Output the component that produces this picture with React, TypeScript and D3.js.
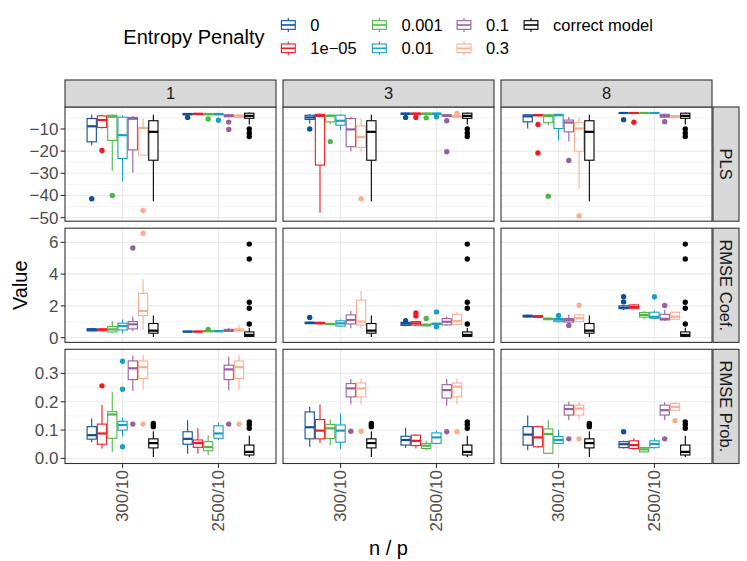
import React from "react";
import * as d3 from "d3";

// [lower whisker, q1, median, q3, upper whisker, outliers]
type Box = [number, number, number, number, number, number[]];

const penalties = ["0", "1e\u221205", "0.001", "0.01", "0.1", "0.3", "correct model"];
const penaltyColors = ["#0E4F9A", "#EE1B24", "#4DB848", "#1AA0C0", "#9460A6", "#FCAE91", "#000000"];
const kLevels = ["1", "3", "8"];
const npLevels = ["300/10", "2500/10"];
const metrics = ["PLS", "RMSE Coef.", "RMSE Prob."];

// ---- PLS ----
const pls_k1_300: Box[] = [
  [-17.3, -15.8, -8.8, -5.3, -3.6, [-41.5]],
  [-9.8, -9.3, -6.0, -4.1, -3.6, [-19.7]],
  [-28.9, -15.2, -4.5, -3.8, -3.4, [-40.0]],
  [-33.6, -23.3, -12.8, -4.7, -3.8, []],
  [-29.8, -19.4, -5.4, -4.8, -4.2, []],
  [-21.9, -21.8, -9.6, -9.3, -5.3, [-46.8]],
];
const pls_k1_2500: Box[] = [
  [-3.9, -3.6, -3.3, -3.0, -2.8, [-4.8]],
  [-3.7, -3.5, -3.2, -3.0, -2.8, []],
  [-3.8, -3.6, -3.3, -3.0, -2.8, [-5.5]],
  [-3.8, -3.6, -3.3, -3.0, -2.8, [-6.1]],
  [-4.8, -4.5, -4.0, -3.6, -3.4, [-6.9, -10.2]],
  [-5.0, -4.8, -4.2, -3.7, -3.5, []],
];
const pls_k3_300: Box[] = [
  [-7.6, -5.7, -4.8, -3.8, -3.4, [-10.0]],
  [-47.8, -26.3, -4.1, -3.4, -3.0, []],
  [-8.0, -6.8, -4.1, -3.8, -3.4, [-15.7]],
  [-10.5, -8.3, -6.3, -3.8, -3.4, []],
  [-20.0, -18.0, -10.2, -5.3, -4.5, []],
  [-20.0, -18.3, -13.6, -8.6, -5.3, [-41.5]],
];
const pls_k3_2500: Box[] = [
  [-3.6, -3.4, -3.1, -2.9, -2.7, [-4.8]],
  [-3.6, -3.4, -3.1, -2.9, -2.7, [-4.8]],
  [-3.6, -3.4, -3.1, -2.9, -2.7, [-5.0]],
  [-3.6, -3.4, -3.1, -2.9, -2.7, [-4.5]],
  [-4.6, -4.3, -4.0, -3.6, -3.4, [-6.3, -20.3]],
  [-5.0, -4.8, -4.3, -3.9, -3.7, [-3.0]],
];
const pls_k8_300: Box[] = [
  [-9.8, -6.8, -4.3, -3.6, -3.4, []],
  [-4.3, -4.0, -3.8, -3.6, -3.4, [-8.0, -20.8]],
  [-8.3, -7.2, -4.1, -3.6, -3.4, [-40.3]],
  [-15.2, -9.8, -3.8, -3.4, -3.2, []],
  [-15.5, -11.3, -7.1, -6.0, -4.5, [-24.2]],
  [-37.0, -20.0, -9.8, -7.1, -5.0, [-49.2]],
];
const pls_k8_2500: Box[] = [
  [-3.0, -2.9, -2.8, -2.7, -2.6, [-5.8]],
  [-3.0, -2.9, -2.8, -2.7, -2.6, [-7.0]],
  [-3.0, -2.9, -2.8, -2.7, -2.6, []],
  [-3.0, -2.9, -2.8, -2.7, -2.6, []],
  [-4.9, -4.7, -4.1, -3.4, -3.2, [-6.7]],
  [-5.0, -4.8, -4.4, -4.0, -3.8, []],
];
const pls_correct_300: Box = [-42.6, -24.1, -11.3, -6.3, -3.6, []];
const pls_correct_2500: Box = [-8.0, -5.2, -4.1, -2.9, -2.6, [-10.0, -11.8, -13.4]];

// ---- RMSE Coef. ----
const coef_k1_300: Box[] = [
  [0.38, 0.42, 0.5, 0.56, 0.63, []],
  [0.4, 0.43, 0.5, 0.55, 0.6, []],
  [0.3, 0.36, 0.52, 0.7, 1.06, []],
  [0.28, 0.48, 0.73, 0.91, 1.15, []],
  [0.42, 0.55, 0.84, 1.01, 1.33, [5.64]],
  [0.48, 1.39, 1.68, 2.79, 3.67, [6.57]],
];
const coef_k1_2500: Box[] = [
  [0.34, 0.36, 0.38, 0.4, 0.42, []],
  [0.34, 0.36, 0.38, 0.4, 0.42, []],
  [0.36, 0.38, 0.41, 0.44, 0.47, [0.52]],
  [0.36, 0.38, 0.41, 0.43, 0.46, []],
  [0.38, 0.4, 0.45, 0.52, 0.62, []],
  [0.4, 0.42, 0.47, 0.55, 0.8, []],
];
const coef_k3_300: Box[] = [
  [0.85, 0.88, 0.93, 0.97, 1.0, [1.27]],
  [0.85, 0.87, 0.92, 0.96, 1.02, []],
  [0.78, 0.82, 0.86, 0.89, 0.92, []],
  [0.69, 0.73, 0.9, 1.06, 1.15, []],
  [0.59, 0.86, 1.11, 1.43, 1.68, []],
  [0.59, 0.79, 1.01, 2.36, 2.95, []],
];
const coef_k3_2500: Box[] = [
  [0.72, 0.77, 0.88, 0.96, 1.0, [1.07]],
  [0.72, 0.79, 0.9, 1.01, 1.05, [1.37, 1.56]],
  [0.7, 0.74, 0.8, 0.84, 0.9, [1.21]],
  [0.82, 0.84, 0.87, 0.9, 0.93, [0.69, 1.62]],
  [0.76, 0.8, 1.0, 1.2, 1.33, []],
  [0.78, 0.84, 1.04, 1.47, 1.62, []],
];
const coef_k8_300: Box[] = [
  [1.25, 1.3, 1.36, 1.41, 1.45, []],
  [1.24, 1.28, 1.33, 1.38, 1.42, []],
  [1.1, 1.13, 1.18, 1.22, 1.26, []],
  [0.96, 1.0, 1.13, 1.2, 1.27, [1.39]],
  [0.93, 0.98, 1.1, 1.2, 1.45, [0.77]],
  [0.98, 1.01, 1.22, 1.43, 1.5, [2.04]],
];
const coef_k8_2500: Box[] = [
  [1.74, 1.82, 1.89, 2.0, 2.05, [2.25, 2.57]],
  [1.78, 1.82, 1.93, 2.06, 2.1, []],
  [1.15, 1.29, 1.43, 1.58, 1.7, []],
  [1.15, 1.22, 1.31, 1.6, 1.7, [2.57]],
  [1.05, 1.11, 1.18, 1.47, 1.75, [2.02]],
  [1.12, 1.16, 1.33, 1.6, 1.65, []],
];
const coef_correct_300: Box = [0.04, 0.28, 0.44, 0.89, 1.39, []];
const coef_correct_2500: Box = [0.04, 0.08, 0.17, 0.36, 0.62, [0.86, 1.85, 2.23, 4.95, 5.89]];

// ---- RMSE Prob. ----
const prob_k1_300: Box[] = [
  [0.057, 0.068, 0.082, 0.112, 0.141, []],
  [0.035, 0.05, 0.088, 0.121, 0.188, [0.256]],
  [0.023, 0.071, 0.155, 0.165, 0.233, []],
  [0.077, 0.1, 0.118, 0.131, 0.144, [0.041, 0.244, 0.343]],
  [0.238, 0.278, 0.318, 0.344, 0.363, [0.121]],
  [0.242, 0.282, 0.322, 0.344, 0.365, [0.121]],
];
const prob_k1_2500: Box[] = [
  [0.016, 0.05, 0.069, 0.094, 0.135, []],
  [0.016, 0.039, 0.054, 0.065, 0.106, []],
  [0.012, 0.027, 0.04, 0.059, 0.082, []],
  [0.065, 0.071, 0.088, 0.115, 0.126, []],
  [0.241, 0.278, 0.314, 0.329, 0.359, [0.121]],
  [0.242, 0.282, 0.322, 0.344, 0.365, [0.121]],
];
const prob_k3_300: Box[] = [
  [0.041, 0.069, 0.11, 0.164, 0.182, []],
  [0.054, 0.069, 0.098, 0.137, 0.19, []],
  [0.047, 0.07, 0.106, 0.12, 0.137, []],
  [0.033, 0.057, 0.098, 0.118, 0.159, []],
  [0.19, 0.217, 0.247, 0.264, 0.28, [0.096]],
  [0.19, 0.217, 0.247, 0.266, 0.282, [0.096]],
];
const prob_k3_2500: Box[] = [
  [0.038, 0.047, 0.065, 0.078, 0.108, []],
  [0.035, 0.045, 0.062, 0.082, 0.084, []],
  [0.03, 0.035, 0.045, 0.053, 0.062, []],
  [0.05, 0.053, 0.074, 0.09, 0.098, []],
  [0.186, 0.213, 0.241, 0.26, 0.28, [0.094]],
  [0.19, 0.217, 0.253, 0.266, 0.282, [0.094]],
];
const prob_k8_300: Box[] = [
  [0.029, 0.047, 0.084, 0.112, 0.151, []],
  [0.038, 0.041, 0.074, 0.112, 0.116, []],
  [0.016, 0.018, 0.086, 0.104, 0.135, []],
  [0.05, 0.053, 0.065, 0.077, 0.1, []],
  [0.135, 0.153, 0.174, 0.188, 0.2, [0.069]],
  [0.137, 0.153, 0.176, 0.188, 0.2, [0.069]],
];
const prob_k8_2500: Box[] = [
  [0.035, 0.038, 0.05, 0.059, 0.062, [0.094]],
  [0.03, 0.035, 0.047, 0.062, 0.071, []],
  [0.02, 0.023, 0.032, 0.038, 0.041, []],
  [0.035, 0.038, 0.051, 0.062, 0.071, []],
  [0.135, 0.153, 0.17, 0.188, 0.198, [0.069]],
  [0.17, 0.17, 0.182, 0.194, 0.198, [0.133]],
];
const prob_correct_300: Box = [0.005, 0.037, 0.054, 0.069, 0.096, [0.112, 0.118, 0.123]];
const prob_correct_2500: Box = [0.005, 0.012, 0.023, 0.047, 0.08, [0.106, 0.119, 0.129]];

// axis settings per facet row
const yDomains: [number, number][] = [[-51.6, -0.1], [-0.3, 6.89], [-0.018, 0.385]];
const yTicks = [[-10, -20, -30, -40, -50], [0, 2, 4, 6], [0, 0.1, 0.2, 0.3]];
const yMinor = [[-5, -15, -25, -35, -45], [1, 3, 5], [0.05, 0.15, 0.25, 0.35]];
const yFormats = [d3.format("d"), d3.format("d"), d3.format(".1f")];

// cells[metric][k][np]
const cells: Box[][][][] = [
  [
    [[...pls_k1_300, pls_correct_300], [...pls_k1_2500, pls_correct_2500]],
    [[...pls_k3_300, pls_correct_300], [...pls_k3_2500, pls_correct_2500]],
    [[...pls_k8_300, pls_correct_300], [...pls_k8_2500, pls_correct_2500]],
  ],
  [
    [[...coef_k1_300, coef_correct_300], [...coef_k1_2500, coef_correct_2500]],
    [[...coef_k3_300, coef_correct_300], [...coef_k3_2500, coef_correct_2500]],
    [[...coef_k8_300, coef_correct_300], [...coef_k8_2500, coef_correct_2500]],
  ],
  [
    [[...prob_k1_300, prob_correct_300], [...prob_k1_2500, prob_correct_2500]],
    [[...prob_k3_300, prob_correct_300], [...prob_k3_2500, prob_correct_2500]],
    [[...prob_k8_300, prob_correct_300], [...prob_k8_2500, prob_correct_2500]],
  ],
];

const FONT = "'Liberation Sans', Arial, Helvetica, sans-serif";
const colLeft = [65, 283, 501];
const rowTop = [107, 228.2, 349.3];
const panelW = 211;
const panelH = 114.2;
const stripH = 27;
const stripW = 26;
const gridColor = "#EBEBEB";
const borderColor = "#333333";

const x = d3.scaleBand<string>().domain(npLevels).range([0, panelW]).paddingInner(0).paddingOuter(0.1);
const dodgeW = x.bandwidth() * 0.75;
const slot = d3.scaleBand<string>().domain(penalties).range([-dodgeW / 2, dodgeW / 2]);
const boxW = slot.bandwidth() * 0.9;

const yScales = yDomains.map((d) => d3.scaleLinear().domain(d).range([panelH, 0]));

function BoxGlyph({ b, cx, y, color }: { b: Box; cx: number; y: d3.ScaleLinear<number, number>; color: string }) {
  const [lw, q1, med, q3, uw, outs] = b;
  return (
    <g>
      <line x1={cx} x2={cx} y1={y(q3)} y2={y(uw)} stroke={color} strokeWidth={1.1} />
      <line x1={cx} x2={cx} y1={y(q1)} y2={y(lw)} stroke={color} strokeWidth={1.1} />
      <rect x={cx - boxW / 2} y={y(q3)} width={boxW} height={Math.max(0.1, y(q1) - y(q3))}
        fill="white" stroke={color} strokeWidth={1.1} />
      <line x1={cx - boxW / 2} x2={cx + boxW / 2} y1={y(med)} y2={y(med)} stroke={color} strokeWidth={2.2} />
      {outs.map((o, i) => (
        <circle key={i} cx={cx} cy={y(o)} r={2.7} fill={color} />
      ))}
    </g>
  );
}

function Panel({ mi, ki }: { mi: number; ki: number }) {
  const y = yScales[mi];
  return (
    <g transform={`translate(${colLeft[ki]},${rowTop[mi]})`}>
      <rect width={panelW} height={panelH} fill="white" />
      {yMinor[mi].map((t) => (
        <line key={"m" + t} x1={0} x2={panelW} y1={y(t)} y2={y(t)} stroke={gridColor} strokeWidth={0.6} />
      ))}
      {yTicks[mi].map((t) => (
        <line key={"t" + t} x1={0} x2={panelW} y1={y(t)} y2={y(t)} stroke={gridColor} strokeWidth={1.1} />
      ))}
      {npLevels.map((n) => {
        const c = (x(n) ?? 0) + x.bandwidth() / 2;
        return <line key={n} x1={c} x2={c} y1={0} y2={panelH} stroke={gridColor} strokeWidth={1.1} />;
      })}
      {npLevels.map((n, ni) => {
        const c = (x(n) ?? 0) + x.bandwidth() / 2;
        return cells[mi][ki][ni].map((b, pi) => (
          <BoxGlyph key={n + pi} b={b} y={y} color={penaltyColors[pi]}
            cx={c + (slot(penalties[pi]) ?? 0) + slot.bandwidth() / 2} />
        ));
      })}
      <rect width={panelW} height={panelH} fill="none" stroke={borderColor} strokeWidth={1.1} />
    </g>
  );
}

function LegendKey({ cx, cy, color }: { cx: number; cy: number; color: string }) {
  const s = 17.3;
  const top = cy - s / 2;
  const left = cx - s / 2;
  return (
    <g>
      <line x1={cx} x2={cx} y1={top + 0.1 * s} y2={top + 0.9 * s} stroke={color} strokeWidth={1.1} />
      <rect x={left + 0.1 * s} y={top + 0.25 * s} width={0.8 * s} height={0.5 * s}
        fill="white" stroke={color} strokeWidth={1.1} />
      <line x1={left + 0.1 * s} x2={left + 0.9 * s} y1={cy} y2={cy} stroke={color} strokeWidth={1.6} />
    </g>
  );
}

export default function App() {
  const legendColX = [288.3, 379.4, 464, 531];
  const legendRowY = [25, 48.3];
  const bottom = rowTop[2] + panelH;
  const rightEdge = colLeft[2] + panelW;
  return (
    <svg width={747} height={561} style={{ position: "absolute", left: 0, top: 0, fontFamily: FONT }}>
      <rect width={747} height={561} fill="white" />

      {/* legend */}
      <text x={123.3} y={37} dy="0.35em" fontSize={20} fill="#000">Entropy Penalty</text>
      {penalties.map((p, i) => {
        const cx = legendColX[Math.floor(i / 2)];
        const cy = legendRowY[i % 2];
        return (
          <g key={p}>
            <LegendKey cx={cx} cy={cy} color={penaltyColors[i]} />
            <text x={cx + 22} y={cy} dy="0.35em" fontSize={16.5} fill="#000">{p}</text>
          </g>
        );
      })}

      {/* panels */}
      {metrics.map((_, mi) => kLevels.map((_, ki) => <Panel key={mi + "-" + ki} mi={mi} ki={ki} />))}

      {/* top strips */}
      {kLevels.map((k, ki) => (
        <g key={k}>
          <rect x={colLeft[ki]} y={rowTop[0] - stripH} width={panelW} height={stripH}
            fill="#D9D9D9" stroke={borderColor} strokeWidth={1.1} />
          <text x={colLeft[ki] + panelW / 2} y={rowTop[0] - stripH / 2} dy="0.35em" textAnchor="middle"
            fontSize={16.5} fill="#1A1A1A">{k}</text>
        </g>
      ))}

      {/* right strips */}
      {metrics.map((m, mi) => (
        <g key={m}>
          <rect x={rightEdge + 1} y={rowTop[mi]} width={stripW} height={panelH}
            fill="#D9D9D9" stroke={borderColor} strokeWidth={1.1} />
          <text transform={`translate(${rightEdge + 1 + stripW / 2},${rowTop[mi] + panelH / 2}) rotate(90)`}
            dy="0.35em" textAnchor="middle" fontSize={16.5} fill="#1A1A1A">{m}</text>
        </g>
      ))}

      {/* y axes */}
      {metrics.map((m, mi) => (
        <g key={"ya" + m} transform={`translate(${colLeft[0]},${rowTop[mi]})`}>
          {yTicks[mi].map((t) => (
            <g key={t} transform={`translate(0,${yScales[mi](t)})`}>
              <line x1={-4.4} x2={0} stroke={borderColor} strokeWidth={1.1} />
              <text x={-6.6} dy="0.35em" textAnchor="end" fontSize={17} fill="#4D4D4D">
                {yFormats[mi](t)}
              </text>
            </g>
          ))}
        </g>
      ))}

      {/* x axes */}
      {kLevels.map((k, ki) => (
        <g key={"xa" + k} transform={`translate(${colLeft[ki]},${bottom})`}>
          {npLevels.map((n) => {
            const c = (x(n) ?? 0) + x.bandwidth() / 2;
            return (
              <g key={n} transform={`translate(${c},0)`}>
                <line y1={0} y2={4.4} stroke={borderColor} strokeWidth={1.1} />
                <text transform="translate(0,6.6) rotate(-90)" dy="0.35em" textAnchor="end"
                  fontSize={17} fill="#4D4D4D">{n}</text>
              </g>
            );
          })}
        </g>
      ))}

      {/* axis titles */}
      <text transform={`translate(20,${(rowTop[0] + bottom) / 2}) rotate(-90)`} dy="0.35em"
        textAnchor="middle" fontSize={20} fill="#000">Value</text>
      <text x={(colLeft[0] + rightEdge) / 2} y={548} dy="0.35em" textAnchor="middle" fontSize={20}
        fill="#000">n / p</text>
    </svg>
  );
}
